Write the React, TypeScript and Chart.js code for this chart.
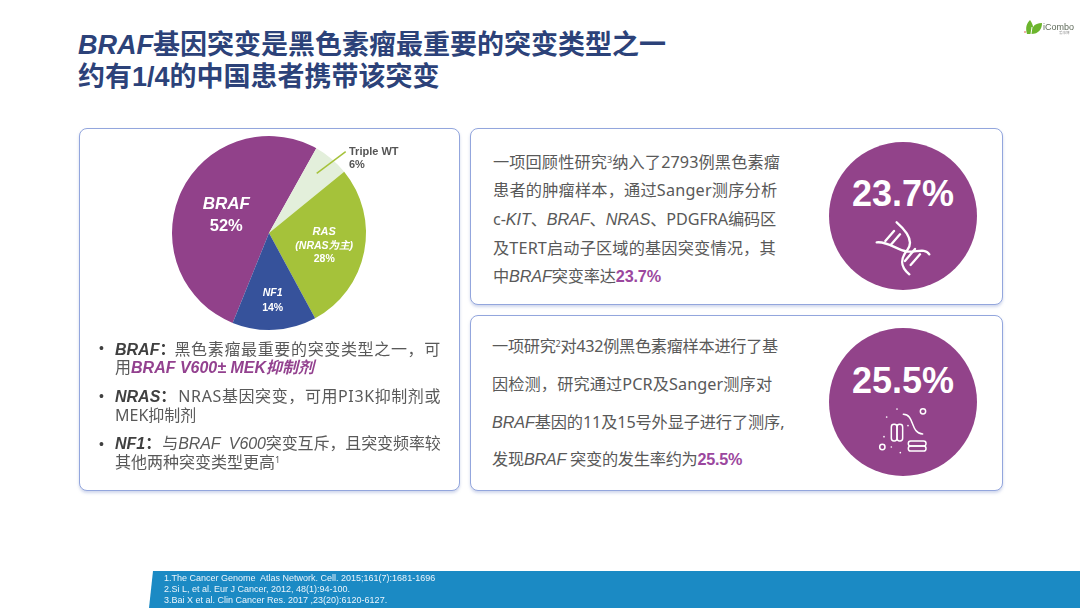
import React, { useEffect, useRef } from "react";
import { Chart, registerables } from "chart.js";

Chart.register(...registerables);

const categories = ["BRAF", "Triple WT", "RAS", "NF1"];
const shares = [52, 6, 28, 14];
const sliceColors = ["#91418a", "#e3efdb", "#a5c23a", "#36529b"];
const references = [
  "1.The Cancer Genome  Atlas Network. Cell. 2015;161(7):1681-1696",
  "2.Si L, et al. Eur J Cancer, 2012, 48(1):94-100.",
  "3.Bai X et al. Clin Cancer Res. 2017 ,23(20):6120-6127.",
];

const FONT = '"Liberation Sans","Noto Sans CJK SC",sans-serif';
const BODY = '"Noto Sans","Noto Sans CJK SC",sans-serif';
const PURPLE = "#92438a";
const TEXT = "#595959";

const pieLabels = {
  id: "pieLabels",
  afterDatasetsDraw(chart: any) {
    const { ctx } = chart;
    const arcs = chart.getDatasetMeta(0).data;
    const at = (i: number, f: number) => {
      const a = arcs[i];
      const mid = (a.startAngle + a.endAngle) / 2;
      return { x: a.x + Math.cos(mid) * a.outerRadius * f, y: a.y + Math.sin(mid) * a.outerRadius * f };
    };
    ctx.save();
    ctx.textAlign = "center";
    ctx.textBaseline = "middle";
    ctx.fillStyle = "#ffffff";

    const b = at(0, 0.5);
    ctx.font = `italic bold 17px ${FONT}`;
    ctx.fillText(categories[0], b.x + 1, b.y - 8);
    ctx.font = `bold 16.5px ${FONT}`;
    ctx.fillText(shares[0] + "%", b.x + 1, b.y + 14);

    const r = at(2, 0.57);
    ctx.font = `italic bold 11px ${FONT}`;
    ctx.fillText(categories[2], r.x + 1, r.y - 12);
    ctx.font = `italic bold 10.5px ${FONT}`;
    ctx.fillText("(NRAS为主)", r.x + 1, r.y + 2);
    ctx.font = `bold 10.5px ${FONT}`;
    ctx.fillText(shares[2] + "%", r.x + 1, r.y + 15);

    const n = at(3, 0.68);
    ctx.font = `italic bold 10.5px ${FONT}`;
    ctx.fillText(categories[3], n.x, n.y - 6);
    ctx.font = `bold 10.5px ${FONT}`;
    ctx.fillText(shares[3] + "%", n.x, n.y + 9);

    const cx = arcs[1].x;
    const cy = arcs[1].y;
    ctx.strokeStyle = "#a5c23a";
    ctx.lineWidth = 1.5;
    ctx.beginPath();
    ctx.moveTo(cx + 47.7, cy - 59.7);
    ctx.lineTo(cx + 76.7, cy - 81.3);
    ctx.stroke();
    ctx.textAlign = "left";
    ctx.fillStyle = "#555555";
    ctx.font = `bold 11px ${FONT}`;
    ctx.fillText(categories[1], cx + 80, cy - 81);
    ctx.fillText(shares[1] + "%", cx + 80, cy - 68);
    ctx.restore();
  },
};

function T({ x, y, size = 16.2, color = TEXT, weight = 400, italic = false, spacing = 0, font = BODY, children }: any) {
  return (
    <div
      style={{
        position: "absolute",
        left: x,
        top: y - 15,
        height: 30,
        lineHeight: "30px",
        fontSize: size,
        color,
        fontWeight: weight,
        fontStyle: italic ? "italic" : "normal",
        letterSpacing: spacing,
        whiteSpace: "pre",
        fontFamily: font,
      }}
    >
      {children}
    </div>
  );
}

const I = ({ children }: any) => <i style={{ fontFamily: FONT }}>{children}</i>;
const Sup = ({ children }: any) => (
  <span style={{ fontSize: 9, verticalAlign: 5, lineHeight: 0 }}>{children}</span>
);
const P = ({ children }: any) => <b style={{ color: "#9b479e", fontFamily: FONT }}>{children}</b>;
const Lead = ({ w = 0, children }: any) => (
  <b style={{ color: "#404040", fontFamily: FONT, marginRight: w }}>{children}</b>
);
const S = ({ v, children }: any) => <span style={{ letterSpacing: v }}>{children}</span>;

function Card({ x, y, w, h }: any) {
  return (
    <div
      style={{
        position: "absolute",
        left: x,
        top: y,
        width: w - 2,
        height: h - 2,
        border: "1px solid #93a6dd",
        borderRadius: 8,
        background: "#fff",
        boxShadow: "0 2px 3px rgba(120,140,200,.35)",
      }}
    />
  );
}

function Circle({ y, labelY, label }: any) {
  return (
    <>
      <div
        style={{
          position: "absolute",
          left: 829,
          top: y - 74,
          width: 148,
          height: 148,
          borderRadius: "50%",
          background: PURPLE,
        }}
      />
      <div
        style={{
          position: "absolute",
          left: 829,
          width: 148,
          top: labelY - 20,
          height: 40,
          lineHeight: "40px",
          textAlign: "center",
          color: "#fff",
          fontWeight: 700,
          fontSize: 36,
          fontFamily: FONT,
        }}
      >
        {label}
      </div>
    </>
  );
}

export default function App() {
  const ref = useRef<HTMLCanvasElement>(null);
  useEffect(() => {
    document.body.style.margin = "0";
    const chart = new Chart(ref.current!, {
      type: "pie",
      data: {
        labels: categories,
        datasets: [{ data: shares, backgroundColor: sliceColors, borderWidth: 0 }],
      },
      options: {
        animation: false,
        responsive: false,
        rotation: 202,
        layout: { padding: { left: 93, right: 94, top: 8, bottom: 8 } },
        plugins: { legend: { display: false }, tooltip: { enabled: false } },
      },
      plugins: [pieLabels],
    });
    return () => chart.destroy();
  }, []);

  return (
    <div style={{ position: "absolute", left: 0, top: 0, width: 1080, height: 608, overflow: "hidden", background: "#fff" }}>
      <T x={78} y={45} size={27} color="#2c4279" weight={700} font={FONT}>
        <I>BRAF</I>基因突变是黑色素瘤最重要的突变类型之一
      </T>
      <T x={78} y={77} size={27} color="#2c4279" weight={700} font={FONT}>
        约有1/4的中国患者携带该突变
      </T>

      <Card x={79} y={128} w={381} h={363} />
      <Card x={470} y={128} w={533} h={177} />
      <Card x={470} y={315} w={533} h={176} />

      <canvas ref={ref} width={381} height={210} style={{ position: "absolute", left: 79, top: 128, width: 381, height: 210 }} />

      {[348, 396, 444].map((y) => (
        <T key={y} x={99} y={y} size={14} color="#404040" font={FONT}>•</T>
      ))}
      <T x={115} y={349} size={16}><Lead w={-1}><I>BRAF</I>：</Lead><S v={0.65}>黑色素瘤最重要的突变类型之一，可</S></T>
      <T x={115} y={367} size={16}>用<b style={{ color: "#93418f", fontFamily: FONT }}><i>BRAF V600± MEK抑制剂</i></b></T>
      <T x={115} y={396} size={16}><Lead w={2}><I>NRAS</I>：</Lead><S v={0.6}>NRAS基因突变，可用PI3K抑制剂或</S></T>
      <T x={115} y={415} size={16}>MEK抑制剂</T>
      <T x={115} y={444} size={16} font={FONT}><Lead w={1}><I>NF1</I>：</Lead><span style={{ letterSpacing: -0.1 }}>与<I>BRAF  V600</I>突变互斥，且突变频率较</span></T>
      <T x={115} y={462} size={16}>其他两种突变类型更高<Sup>1</Sup></T>

      <T x={493} y={162} spacing={0.1}>一项回顾性研究<Sup>3</Sup>纳入了2793例黑色素瘤</T>
      <T x={493} y={190} spacing={0.2}>患者的肿瘤样本，通过Sanger测序分析</T>
      <T x={493} y={219} spacing={-0.1}>c-<I>KIT</I>、<I>BRAF</I>、<I>NRAS</I>、PDGFRA编码区</T>
      <T x={493} y={248} spacing={0.15}>及TERT启动子区域的基因突变情况，其</T>
      <T x={493} y={276} spacing={-0.15}>中<I>BRAF</I>突变率达<P>23.7%</P></T>

      <T x={492} y={346} spacing={-0.3}>一项研究<Sup>2</Sup>对432例黑色素瘤样本进行了基</T>
      <T x={492} y={384} spacing={0.1}>因检测，研究通过PCR及Sanger测序对</T>
      <T x={492} y={422} spacing={-0.12}><I>BRAF</I>基因的11及15号外显子进行了测序,</T>
      <T x={492} y={459} spacing={-0.25}>发现<I>BRAF </I>突变的发生率约为<P>25.5%</P></T>

      <Circle y={216} labelY={194} label="23.7%" />
      <Circle y={402} labelY={381} label="25.5%" />

      <svg width={1080} height={608} style={{ position: "absolute", left: 0, top: 0 }}>
        <polygon points="153,571 1080,571 1080,608 149,608" fill="#1b8ac4" />
        <g transform="translate(820 135) scale(.3333)" fill="none" stroke="#fff" strokeLinecap="round">
          <g strokeWidth={7}>
            <path d="M230 262 C262 290 282 320 262 345 C240 372 240 395 268 418" />
            <path d="M170 322 C205 318 228 345 262 350 C290 352 315 338 328 358" />
            <path d="M196 318 L222 288 M212 330 L240 298 M255 378 L285 342 M272 390 L300 358" />
          </g>
          <g strokeWidth={4.5}>
            <circle cx={309} cy={829} r={8} />
            <circle cx={187} cy={936} r={8} />
            <rect x={214} y={868} width={17} height={50} rx={8} />
            <rect x={231} y={868} width={17} height={50} rx={8} />
            <rect x={265} y={918} width={53} height={15} rx={7} />
            <rect x={265} y={933} width={53} height={15} rx={7} />
            <path d="M250 838 C285 838 270 895 308 897" />
          </g>
          <g fill="#fff" stroke="none">
            <circle cx={231} cy={822} r={2.5} />
            <circle cx={200} cy={846} r={2.5} />
            <circle cx={264} cy={872} r={2.5} />
            <circle cx={192} cy={905} r={2.5} />
            <circle cx={214} cy={936} r={2.5} />
            <circle cx={241} cy={953} r={2.5} />
          </g>
        </g>
        <path d="M1027 34 C1025 27 1027 23 1030 20 C1032 23 1033 25 1033 27 C1035 24 1038 23 1042 23 C1042 29 1039 34 1031 34 Z" fill="#6cb52d" />
        <path d="M1031 34 L1032 27" stroke="#fff" strokeWidth={1} />
        <circle cx={1025} cy={32} r={0.8} fill="#e04a3a" />
      </svg>

      <T x={1043} y={27} size={9} color="#5f6b5a" font={FONT}>iCombo</T>
      <T x={1059} y={33} size={3.5} color="#9a9a9a" font={FONT}>爱康博</T>

      {references.map((line, i) => (
        <T key={i} x={164} y={578 + i * 11} size={9} color="#eaf4fb" font={FONT}>{line}</T>
      ))}
    </div>
  );
}
